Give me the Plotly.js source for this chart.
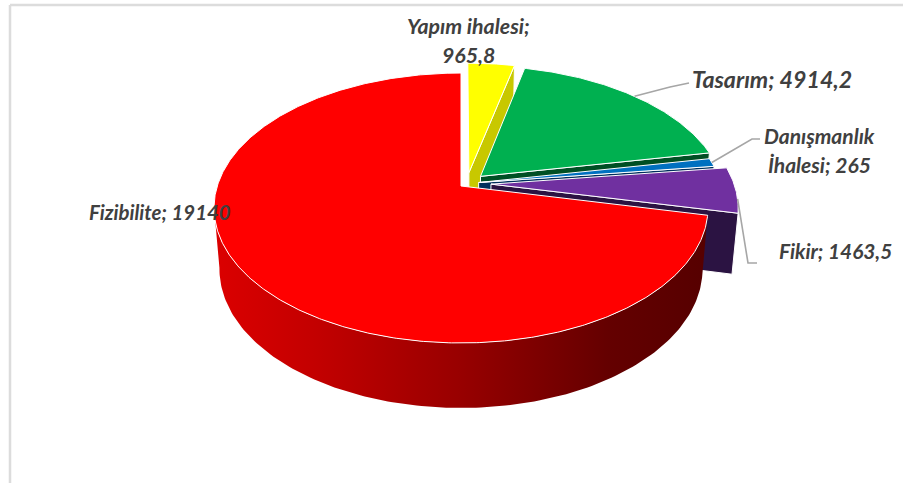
<!DOCTYPE html>
<html><head><meta charset="utf-8">
<script src="https://cdn.plot.ly/plotly-3.0.1.min.js"></script>
<style>html,body{margin:0;padding:0;background:#fff}</style></head>
<body><div id="c" style="width:903px;height:483px"></div>
<script>
const categories = ["Yapım ihalesi","Tasarım","Danışmanlık İhalesi","Fikir","Fizibilite"];
const values = [965.8,4914.2,265,1463.5,19140];
const displayValues = ["965,8","4914,2","265","1463,5","19140"];
const topColors = ["#ffff00","#00b050","#0070c0","#7030a0","#ff0000"];
const wallColors = ["#c8c800","#004f24","#002f5c","#2b1342","#d40000"];
const explode = [0.085,0.08,0.05,0.10,0.03];

// perspective of the tilted pie
const cx=461, cy=186, a=131.4, b=243.7, k=0.163, xShrink=0.978;
const rad=d=>d*Math.PI/180;
const total=values.reduce((p,q)=>p+q,0);
function topPt(u,v){const s=1/(1-k*v);return [cx+b*u*s,cy+a*v*s];}
function botPt(u,v){const p=topPt(u,v);return [cx+(p[0]-cx)*xShrink,p[1]+60+5*v];}
const centre=[0.03*0.779,-0.03*0.627];

let traces=[], start=0;
const geo=[];
values.forEach((val,i)=>{
  const sweep=val/total*360, mid=start+sweep/2;
  const ox=centre[0]+explode[i]*Math.sin(rad(mid)), oy=centre[1]-explode[i]*Math.cos(rad(mid));
  geo.push({ox,oy,s:start,e:start+sweep,mid});
  start+=sweep;
});
const onRim=(g,d)=>[g.ox+Math.sin(rad(d)),g.oy-Math.cos(rad(d))];
function poly(pts,fill,line,extra){
  return Object.assign({type:"scatter",mode:"lines",x:pts.map(p=>p[0]),y:pts.map(p=>p[1]),
    fill:"toself",fillcolor:fill,line:{color:line,width:line==="rgba(0,0,0,0)"?0:1},hoverinfo:"skip",showlegend:false},extra||{});
}
geo.forEach((g,i)=>{
  if(i<4){ // radial side wall at clockwise end of slice
    const rim=onRim(g,g.e);
    const pts=[topPt(g.ox,g.oy),topPt(rim[0],rim[1]),botPt(rim[0],rim[1]),botPt(g.ox,g.oy),topPt(g.ox,g.oy)];
    traces.push(poly(pts,wallColors[i],"#ffffff"));
  } else { // long front wall of the big slice, from its leftmost rim point
    const upper=[],lower=[];
    for(let d=g.e-99;d>=g.s;d-=1){const r=onRim(g,d);upper.push(topPt(r[0],r[1]));lower.push(botPt(r[0],r[1]));}
    const pts=upper.concat(lower.reverse());pts.push(upper[0]);
    traces.push(poly(pts,"#d40000","rgba(0,0,0,0)",{fillgradient:{type:"horizontal",start:213,stop:707,
      colorscale:[[0,"#dc0000"],[0.2,"#c40000"],[0.5,"#980000"],[0.8,"#640000"],[1,"#560000"]]}}));
  }
  const pts=[topPt(g.ox,g.oy)];
  for(let d=g.s;d<=g.e+1e-6;d+=0.5){const r=onRim(g,d);pts.push(topPt(r[0],r[1]));}
  const r=onRim(g,g.e);pts.push(topPt(r[0],r[1]));pts.push(topPt(g.ox,g.oy));
  traces.push(poly(pts,topColors[i],"#ffffff"));
});

const labelLines=[
  [categories[0]+";",displayValues[0]],
  [categories[1]+"; "+displayValues[1]],
  ["Danışmanlık","İhalesi; "+displayValues[2]],
  [categories[3]+"; "+displayValues[3]],
  [categories[4]+"; "+displayValues[4]]
];
const labelAt=[[468,26],[772,79],[819,135],[835,250],[160,212]];
const lineGap=[29,0,29,0,0];
const labelSize=[21.3,23.2,21,20.8,20.4];
const annotations=[];
labelLines.forEach((ls,i)=>ls.forEach((t,j)=>annotations.push({xref:"x",yref:"y",x:labelAt[i][0],y:labelAt[i][1]+j*lineGap[i],
  text:t,showarrow:false,font:{family:"Lato,'Liberation Sans',sans-serif",size:labelSize[i],color:"#404040",style:"italic",weight:"bold"},xanchor:"center",yanchor:"middle"})));

const grey="#a6a6a6";
const rimPt=(i,d)=>{const r=onRim(geo[i],d);return topPt(r[0],r[1]);};
const t1=rimPt(1,geo[1].mid), t2=rimPt(2,geo[2].mid), t3=rimPt(3,geo[3].e-6);
const leader=(p,q,r)=>({type:"path",xref:"x",yref:"y",path:`M${p[0]},${p[1]} L${q[0]},${q[1]} L${r[0]},${r[1]}`,line:{color:grey,width:1.6},layer:"above"});
const shapes=[
  {type:"line",xref:"paper",yref:"paper",x0:10/903,x1:1,y0:1-5/483,y1:1-5/483,line:{color:"#dcdcdc",width:2.5}},
  {type:"line",xref:"paper",yref:"paper",x0:10/903,x1:10/903,y0:0,y1:1-5/483,line:{color:"#dcdcdc",width:2.5}},
  leader(t1,[670,87],[689,83]),
  leader(t2,[752,139],[760,139]),
  leader(t3,[748,263],[757,263])
];
const hide={visible:false,fixedrange:true};
Plotly.newPlot("c",traces,{
  width:903,height:483,margin:{l:0,r:0,t:0,b:0},paper_bgcolor:"#fff",plot_bgcolor:"#fff",showlegend:false,hovermode:false,
  xaxis:Object.assign({range:[0,903]},hide),yaxis:Object.assign({range:[483,0]},hide),annotations,shapes
},{displayModeBar:false,staticPlot:true});
</script></body></html>
